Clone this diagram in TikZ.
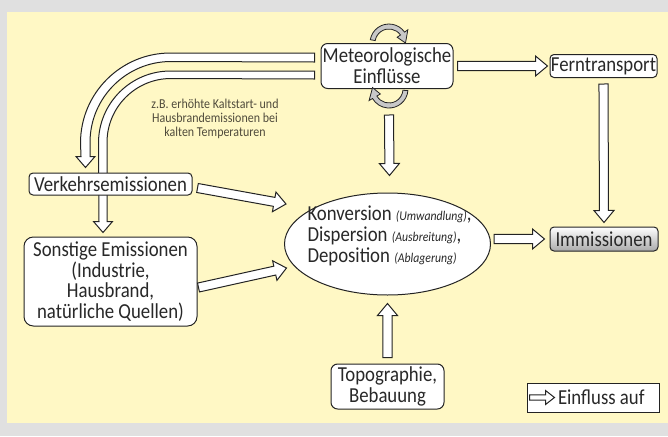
\documentclass[tikz,border=0pt]{standalone}
\usepackage{fontspec}
\setmainfont[FakeStretch=0.88]{Carlito}
\usetikzlibrary{calc,shapes.geometric}

\definecolor{bggray}{RGB}{224,224,224}
\definecolor{bgyellow}{RGB}{255,248,197}
\definecolor{linegray}{RGB}{35,35,35}
\definecolor{txtgray}{RGB}{40,40,40}
\definecolor{notegray}{RGB}{80,75,60}
\definecolor{loopgray}{RGB}{200,200,200}

\tikzset{every picture/.style={line width=0.75pt}}
\tikzset{
  box/.style={draw=linegray, fill=white, rounded corners=3pt, inner sep=0pt, align=center, text=txtgray, font=\fontsize{16}{15.5}\selectfont},
  flowline/.style={draw=linegray, fill=white, line join=miter},
  loopline/.style={draw=linegray, fill=loopgray, line width=0.6pt},
}

\newcommand{\smallit}[1]{{\fontsize{10}{11}\selectfont\itshape #1}}

% block arrow: start, tip, shaft half width, head half width, head length
\newcommand{\flowarrowsized}[5]{%
  \coordinate (fa-s) at (#1);
  \coordinate (fa-t) at (#2);
  \coordinate (fa-b) at ($(fa-t)!#5!(fa-s)$);
  \draw[flowline] ($(fa-s)!#3!90:(fa-t)$) -- ($(fa-b)!#3!90:(fa-t)$) -- ($(fa-b)!#4!90:(fa-t)$) -- (fa-t) -- ($(fa-b)!#4!-90:(fa-t)$) -- ($(fa-b)!#3!-90:(fa-t)$) -- ($(fa-s)!#3!-90:(fa-t)$) -- cycle;}
\newcommand{\flowarrow}[2]{\flowarrowsized{#1}{#2}{3.4pt}{7.5pt}{9pt}}

\begin{document}
\begin{tikzpicture}[x=0.75pt,y=0.75pt,yscale=-1,xscale=1]
	\useasboundingbox (0,0) rectangle (668,436);

	%Shape: Rectangle (frame)
	\fill[bggray] (0,0) rectangle (668,436);
	\fill[bgyellow] (7,12) rectangle (668,423);

	% Text Node
	\node[box, rounded corners=5pt, minimum width=99pt, minimum height=33.75pt] (met) at (387,66) {Meteorologische\\Einflüsse};
	% Text Node
	\node[box, rounded corners=7pt, minimum width=129.75pt, minimum height=66.75pt] (sonst) at (110.5,281.5) {Sonstige Emissionen\\(Industrie,\\Hausbrand,\\natürliche Quellen)};

	%Curve Lines (inner, behind Verkehrsemissionen)
	\coordinate (wIn) at ($(met.west)+(-6,5)$);
	\coordinate (tIn) at ($(sonst.north)+(-7.5,-4)$);
	\draw[flowline] (wIn) -- ++(-144,0) arc[start angle=-90, end angle=-180, radius=72] -- ($(tIn)+(-4,-11)$) -- ($(tIn)+(-9.5,-11)$) -- (tIn) -- ($(tIn)+(9.5,-11)$) -- ($(tIn)+(4,-11)$) -- ++(0,-79) arc[start angle=180, end angle=270, radius=64] -- ($(wIn)+(0,8)$) -- cycle;

	% Text Node
	\node[box, minimum width=122.25pt, minimum height=16.5pt] (verk) at (110.5,184) {Verkehrsemissionen};

	%Curve Lines (outer)
	\coordinate (wOut) at ($(met.west)+(-6,-13)$);
	\coordinate (tOut) at ($(verk.north)+(-25,-5)$);
	\draw[flowline] (wOut) -- ++(-144,0) arc[start angle=-90, end angle=-180, radius=90] -- ($(tOut)+(-4.5,-11)$) -- ($(tOut)+(-9.5,-11)$) -- (tOut) -- ($(tOut)+(9.5,-11)$) -- ($(tOut)+(4.5,-11)$) -- ++(0,-14) arc[start angle=180, end angle=270, radius=81] -- ($(wOut)+(0,9)$) -- cycle;

	% Text Node
	\node[notegray, font=\fontsize{10.2}{10.5}\selectfont, align=center] (note) at (215,119) {z.B. erhöhte Kaltstart- und\\Hausbrandemissionen bei\\kalten Temperaturen};

	% Text Node
	\node[box, minimum width=80.25pt, minimum height=17.25pt] (fern) at (603.5,66) {Ferntransport};
	% Text Node
	\node[box, top color=white, bottom color={rgb,255:red,170;green,170;blue,170}, minimum width=81pt, minimum height=18pt] (imm) at (604,239) {Immissionen};
	% Text Node
	\node[box, rounded corners=5pt, minimum width=84.75pt, minimum height=33.75pt] (topo) at (387.5,386.5) {Topographie,\\Bebauung};
	%Shape: Ellipse
	\node[draw=linegray, fill=white, ellipse, inner sep=0pt, minimum width=154.5pt, minimum height=76.5pt] (ell) at (387.5,244) {};
	\node[text=txtgray, font=\fontsize{16}{16}\selectfont, align=left, anchor=west, inner sep=0pt] (convtxt) at ($(ell.west)+(23,-8)$) {Konversion \smallit{(Umwandlung)},\\Dispersion \smallit{(Ausbreitung)},\\Deposition \smallit{(Ablagerung)}};

	%Shape: Rectangle (legend)
	\node[box, rounded corners=0pt, minimum width=99pt, minimum height=21.75pt] (legend) at (593,397.5) {};
	\node[text=txtgray, font=\fontsize{16}{15.5}\selectfont, anchor=west, inner sep=0pt] (legtxt) at ($(legend.west)+(31,0)$) {Einfluss auf};

	%Straight Lines
	\flowarrow{$(met.east)+(4,0)$}{$(fern.west)+(-2,0)$}
	\flowarrow{$(fern.south)+(0,6)$}{$(imm.north)+(0,-4)$}
	\flowarrow{$(met.south)+(2,26)$}{$(ell.north)+(2,-17)$}
	\flowarrow{$(topo.north)+(0,-6)$}{$(ell.south)+(0,8)$}
	\flowarrow{$(ell.east)+(3,-5)$}{$(imm.west)+(-5,0)$}
	\flowarrow{$(verk.east)+(5,4)$}{$(ell.west)+(2,-40)$}
	\flowarrow{$(sonst.east)+(1,6)$}{$(ell.west)+(2.5,24)$}
	\flowarrowsized{$(legend.west)+(3,0)$}{$(legend.west)+(28,0)$}{1.9pt}{5.25pt}{6.75pt}

	%Curve Lines (loops)
	\coordinate (loopT) at ($(met.north)+(2,0)$);
	\draw[loopline] ($(loopT)+(-170:19)$) arc[start angle=-170, end angle=-35, radius=19] -- ($(loopT)+(-35:23)$) -- ($(loopT)+(0:16.5)$) -- ($(loopT)+(-35:10)$) -- ($(loopT)+(-35:14)$) arc[start angle=-35, end angle=-170, radius=14] -- cycle;
	\coordinate (loopB) at ($(met.south)+(2,0)$);
	\draw[loopline] ($(loopB)+(5:19)$) arc[start angle=5, end angle=150, radius=19] -- ($(loopB)+(150:23)$) -- ($(loopB)+(185:16.5)$) -- ($(loopB)+(150:10)$) -- ($(loopB)+(150:14)$) arc[start angle=150, end angle=5, radius=14] -- cycle;

\end{tikzpicture}
\end{document}
